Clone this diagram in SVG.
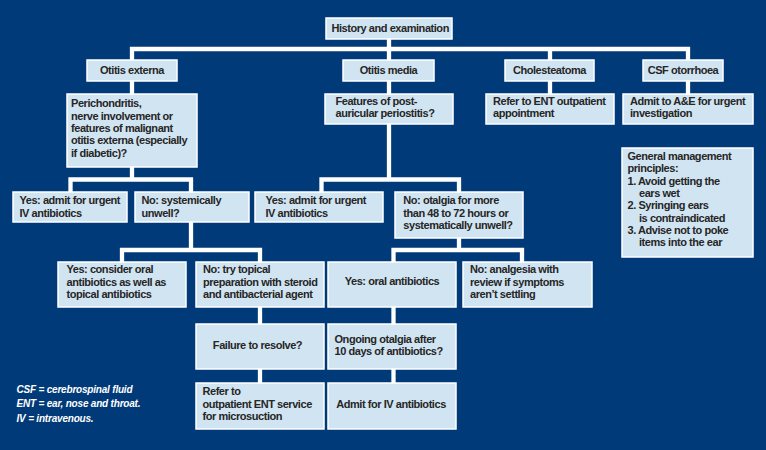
<svg xmlns="http://www.w3.org/2000/svg" width="766" height="450" viewBox="0 0 766 450">
<style>
.bg{fill:#013a78}
.box{fill:#d1e4f1;stroke:#ffffff;stroke-width:1.5}
.t{font-family:"Liberation Sans",Arial,sans-serif;font-weight:bold;font-size:11px;letter-spacing:-0.45px;fill:#262626}
.c{text-anchor:middle}
.conn{fill:none;stroke:#ffffff;stroke-width:4.3;stroke-linejoin:miter;stroke-linecap:butt}
.leg{font-family:"Liberation Sans",Arial,sans-serif;font-weight:bold;font-style:italic;font-size:10px;letter-spacing:-0.2px;fill:#ffffff}
</style>
<rect class="bg" x="0" y="0" width="766" height="450"/>
<g id="connectors">
<path class="conn" d="M389,39 V49"/>
<path class="conn" d="M132,60 V49 H688 V60"/>
<path class="conn" d="M389,49 V60"/>
<path class="conn" d="M550,49 V60"/>
<path class="conn" d="M132,81 V94"/>
<path class="conn" d="M389,81 V94"/>
<path class="conn" d="M550,81 V94"/>
<path class="conn" d="M688,81 V94"/>
<path class="conn" d="M132,167 V179.5"/>
<path class="conn" d="M70.5,192 V179.5 H191 V192"/>
<path class="conn" d="M389,124 V179.5"/>
<path class="conn" d="M321.5,192 V179.5 H459 V192"/>
<path class="conn" d="M191,222 V250"/>
<path class="conn" d="M122,262 V250 H260 V262"/>
<path class="conn" d="M459,238 V250"/>
<path class="conn" d="M393.5,262 V250 H522 V262"/>
<path class="conn" d="M260,307 V324"/>
<path class="conn" d="M393.5,307 V324"/>
<path class="conn" d="M260,369 V383"/>
<path class="conn" d="M393.5,369 V383"/>
</g>
<g id="history"><rect class="box" x="326" y="18" width="126" height="21"/><text class="t" x="331.5" y="31.5">History and examination</text></g>
<g id="otitis-externa"><rect class="box" x="87" y="60" width="90" height="21"/><text class="t c" x="132" y="74">Otitis externa</text></g>
<g id="otitis-media"><rect class="box" x="343" y="60" width="91" height="21"/><text class="t c" x="388.5" y="74">Otitis media</text></g>
<g id="cholesteatoma"><rect class="box" x="505" y="60" width="89" height="21"/><text class="t c" x="549.5" y="74">Cholesteatoma</text></g>
<g id="csf-otorrhoea"><rect class="box" x="643" y="60" width="80" height="21"/><text class="t c" x="683" y="74">CSF otorrhoea</text></g>
<g id="perichondritis"><rect class="box" x="67" y="94" width="130" height="73"/>
<text class="t" x="71" y="107.3">Perichondritis,</text>
<text class="t" x="71" y="119.7">nerve involvement or</text>
<text class="t" x="71" y="132">features of malignant</text>
<text class="t" x="71" y="144.4">otitis externa (especially</text>
<text class="t" x="71" y="156.7">if diabetic)?</text></g>
<g id="features"><rect class="box" x="325" y="94" width="128" height="30"/>
<text class="t" x="335.5" y="104.5">Features of post-</text>
<text class="t" x="335.5" y="117">auricular periostitis?</text></g>
<g id="refer-ent"><rect class="box" x="486" y="94" width="128" height="30"/>
<text class="t" x="493" y="104.5">Refer to ENT outpatient</text>
<text class="t" x="493" y="117">appointment</text></g>
<g id="admit-ae"><rect class="box" x="623" y="94" width="130" height="30"/>
<text class="t" x="630" y="104.5">Admit to A&amp;E for urgent</text>
<text class="t" x="630" y="117">investigation</text></g>
<g id="general"><rect class="box" x="622" y="148" width="131" height="109"/>
<text class="t" x="627.5" y="160">General management</text>
<text class="t" x="627.5" y="172.3">principles:</text>
<text class="t" x="627.5" y="184.6">1. Avoid getting the</text>
<text class="t" x="639" y="196.9">ears wet</text>
<text class="t" x="627.5" y="209.2">2. Syringing ears</text>
<text class="t" x="639" y="221.5">is contraindicated</text>
<text class="t" x="627.5" y="233.8">3. Advise not to poke</text>
<text class="t" x="639" y="246.1">items into the ear</text></g>
<g id="yes-admit-1"><rect class="box" x="13" y="192" width="114" height="30"/>
<text class="t" x="19.5" y="204">Yes: admit for urgent</text>
<text class="t" x="19.5" y="216.5">IV antibiotics</text></g>
<g id="no-systemically"><rect class="box" x="135" y="192" width="114" height="30"/>
<text class="t" x="141.5" y="204">No: systemically</text>
<text class="t" x="141.5" y="216.5">unwell?</text></g>
<g id="yes-admit-2"><rect class="box" x="255" y="192" width="128" height="30"/>
<text class="t" x="265.5" y="204">Yes: admit for urgent</text>
<text class="t" x="265.5" y="216.5">IV antibiotics</text></g>
<g id="no-otalgia"><rect class="box" x="395" y="192" width="128" height="46"/>
<text class="t" x="403.3" y="204">No: otalgia for more</text>
<text class="t" x="403.3" y="216.5">than 48 to 72 hours or</text>
<text class="t" x="403.3" y="229">systematically unwell?</text></g>
<g id="yes-consider"><rect class="box" x="58" y="262" width="128" height="45"/>
<text class="t" x="66.5" y="273.3">Yes: consider oral</text>
<text class="t" x="66.5" y="285.7">antibiotics as well as</text>
<text class="t" x="66.5" y="298.3">topical antibiotics</text></g>
<g id="no-topical"><rect class="box" x="196" y="262" width="128" height="45"/>
<text class="t" x="203" y="273.3">No: try topical</text>
<text class="t" x="203" y="285.7">preparation with steroid</text>
<text class="t" x="203" y="298.3">and antibacterial agent</text></g>
<g id="yes-oral"><rect class="box" x="328" y="262" width="128" height="45"/>
<text class="t c" x="392" y="285">Yes: oral antibiotics</text></g>
<g id="no-analgesia"><rect class="box" x="463" y="262" width="129" height="45"/>
<text class="t" x="470" y="273.3">No: analgesia with</text>
<text class="t" x="470" y="285.7">review if symptoms</text>
<text class="t" x="470" y="298.3">aren’t settling</text></g>
<g id="failure"><rect class="box" x="196" y="324" width="128" height="45"/>
<text class="t c" x="257.5" y="348.5">Failure to resolve?</text></g>
<g id="ongoing"><rect class="box" x="328" y="324" width="128" height="45"/>
<text class="t" x="334.5" y="342.5">Ongoing otalgia after</text>
<text class="t" x="334.5" y="355">10 days of antibiotics?</text></g>
<g id="refer-microsuction"><rect class="box" x="196" y="383" width="128" height="46"/>
<text class="t" x="202.5" y="395">Refer to</text>
<text class="t" x="202.5" y="407.5">outpatient ENT service</text>
<text class="t" x="202.5" y="420">for microsuction</text></g>
<g id="admit-iv"><rect class="box" x="328" y="383" width="128" height="46"/>
<text class="t c" x="391" y="407.7">Admit for IV antibiotics</text></g>
<g id="legend">
<text class="leg" x="16.5" y="392.7">CSF = cerebrospinal fluid</text>
<text class="leg" x="16.5" y="407.3">ENT = ear, nose and throat.</text>
<text class="leg" x="16.5" y="422.3">IV = intravenous.</text>
</g>
</svg>
